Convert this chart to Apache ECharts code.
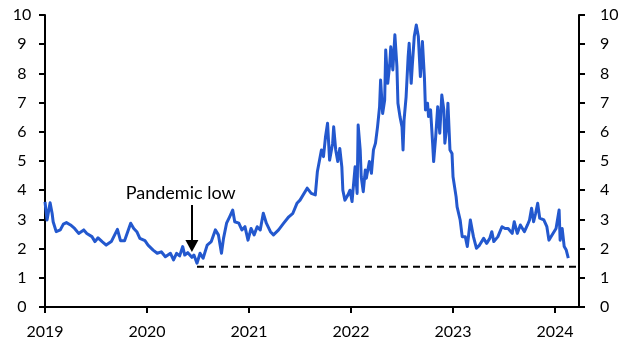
<!DOCTYPE html>
<html>
<head>
<meta charset="utf-8">
<script src="https://cdn.jsdelivr.net/npm/echarts@6/dist/echarts.min.js"></script>
<style>
  html, body { margin: 0; padding: 0; background: #fff; }
  #chart { width: 629px; height: 354px; }
</style>
</head>
<body>
<div id="chart"></div>
<script>
// dates as decimal years
const years = [
  2019.00, 2019.02, 2019.05, 2019.07, 2019.08, 2019.11, 2019.15, 2019.18, 2019.21, 2019.25,
  2019.29, 2019.33, 2019.38, 2019.41, 2019.46, 2019.49, 2019.52, 2019.56, 2019.60, 2019.65,
  2019.71, 2019.74, 2019.78, 2019.84, 2019.87, 2019.90, 2019.93, 2019.98, 2020.01, 2020.06,
  2020.10, 2020.14, 2020.18, 2020.23, 2020.26, 2020.29, 2020.32, 2020.35, 2020.37, 2020.40,
  2020.44, 2020.46, 2020.49, 2020.52, 2020.55, 2020.59, 2020.63, 2020.67, 2020.70, 2020.73,
  2020.75, 2020.78, 2020.81, 2020.84, 2020.86, 2020.90, 2020.93, 2020.96, 2020.99, 2021.02,
  2021.05, 2021.08, 2021.11, 2021.14, 2021.17, 2021.21, 2021.24, 2021.29, 2021.34, 2021.39,
  2021.43, 2021.47, 2021.50, 2021.57, 2021.61, 2021.65, 2021.67, 2021.71, 2021.73, 2021.75,
  2021.77, 2021.79, 2021.82, 2021.83, 2021.85, 2021.87, 2021.89, 2021.91, 2021.92, 2021.94,
  2021.97, 2021.99, 2022.01, 2022.04, 2022.06, 2022.07, 2022.09, 2022.10, 2022.12, 2022.14,
  2022.15, 2022.18, 2022.20, 2022.22, 2022.24, 2022.26, 2022.28, 2022.29, 2022.31, 2022.33,
  2022.34, 2022.36, 2022.38, 2022.39, 2022.41, 2022.43, 2022.45, 2022.46, 2022.48, 2022.50,
  2022.51, 2022.52, 2022.54, 2022.56, 2022.57, 2022.59, 2022.60, 2022.62, 2022.64, 2022.66,
  2022.68, 2022.70, 2022.72, 2022.73, 2022.75, 2022.76, 2022.78, 2022.80, 2022.81, 2022.83,
  2022.85, 2022.87, 2022.89, 2022.91, 2022.92, 2022.94, 2022.95, 2022.97, 2022.99, 2023.00,
  2023.03, 2023.04, 2023.07, 2023.09, 2023.12, 2023.14, 2023.17, 2023.20, 2023.23, 2023.26,
  2023.30, 2023.33, 2023.36, 2023.38, 2023.40, 2023.44, 2023.48, 2023.51, 2023.54, 2023.58,
  2023.60, 2023.63, 2023.66, 2023.70, 2023.73, 2023.75, 2023.77, 2023.79, 2023.81, 2023.83,
  2023.85, 2023.89, 2023.92, 2023.94, 2023.98, 2024.01, 2024.04, 2024.05, 2024.07, 2024.09,
  2024.11, 2024.13
]
const rate = [
  3.60, 2.98, 3.57, 3.20, 2.92, 2.58, 2.64, 2.84, 2.89, 2.81,
  2.69, 2.52, 2.64, 2.52, 2.41, 2.24, 2.37, 2.24, 2.12, 2.24,
  2.66, 2.27, 2.27, 2.87, 2.69, 2.58, 2.35, 2.27, 2.12, 1.95,
  1.84, 1.89, 1.72, 1.84, 1.61, 1.84, 1.75, 2.07, 1.78, 1.86,
  1.70, 1.78, 1.50, 1.84, 1.67, 2.12, 2.24, 2.64, 2.47, 1.84,
  2.35, 2.87, 3.09, 3.32, 2.92, 2.87, 2.64, 2.75, 2.29, 2.69,
  2.47, 2.75, 2.64, 3.21, 2.87, 2.58, 2.47, 2.64, 2.87, 3.09,
  3.21, 3.55, 3.66, 4.07, 3.89, 3.84, 4.63, 5.38, 5.15, 5.83,
  6.29, 5.03, 5.61, 6.17, 5.38, 4.98, 5.43, 4.80, 4.00, 3.66,
  3.84, 4.00, 3.61, 4.80, 3.89, 6.23, 5.38, 4.46, 3.95, 4.69,
  4.41, 4.98, 4.58, 5.38, 5.61, 6.17, 6.86, 7.77, 6.63, 7.09,
  8.80, 7.66, 8.34, 8.91, 8.12, 9.32, 8.23, 6.98, 6.52, 6.17,
  5.38, 6.40, 7.20, 8.57, 9.03, 7.66, 8.23, 9.26, 9.66, 9.26,
  7.89, 9.09, 7.83, 6.75, 6.98, 6.52, 6.75, 5.61, 4.98, 5.83,
  6.86, 5.95, 7.26, 6.75, 5.61, 6.23, 6.98, 5.38, 5.26, 4.46,
  3.78, 3.43, 2.98, 2.41, 2.41, 2.07, 2.98, 2.41, 2.01, 2.12,
  2.35, 2.18, 2.35, 2.58, 2.24, 2.41, 2.75, 2.69, 2.69, 2.52,
  2.92, 2.52, 2.81, 2.58, 2.81, 2.98, 3.38, 2.92, 3.21, 3.55,
  3.04, 2.98, 2.75, 2.29, 2.52, 2.69, 3.32, 2.29, 2.69, 2.07,
  1.95, 1.67
]
const yearTicks = [2019, 2020, 2021, 2022, 2023, 2024]
const xMin = 2019
const xMax = 2024.235
const lowLevel = 1.38
const lowFrom = 2020.49
const noteText = 'Pandemic low'
const noteAt = [2020.33, 3.91]
const arrowFrom = [2020.44, 3.49]
const arrowTo = [2020.44, 2.09]

const font = 'Lato, "Open Sans", sans-serif'
const axisBlack = { lineStyle: { color: '#000', width: 2 } }

const myChart = echarts.init(document.getElementById('chart'), null, { renderer: 'canvas' })

const options = {
  animation: false,
  grid: { left: 45, right: 50, top: 15, bottom: 47 },
  xAxis: {
    type: 'value',
    min: xMin,
    max: xMax,
    interval: 1,
    axisLine: { show: true, onZero: false, ...axisBlack },
    axisTick: { show: true, inside: false, length: 6, ...axisBlack },
    splitLine: { show: false },
    axisLabel: {
      color: '#000',
      fontFamily: font,
      fontSize: 16,
      margin: 17,
      showMaxLabel: false,
      formatter: v => (yearTicks.includes(Math.round(v)) && Math.abs(v - Math.round(v)) < 1e-6 ? String(Math.round(v)) : '')
    }
  },
  yAxis: [
    {
      type: 'value',
      position: 'left',
      min: 0,
      max: 10,
      interval: 1,
      axisLine: { show: true, ...axisBlack },
      axisTick: { show: true, length: 6, ...axisBlack },
      splitLine: { show: false },
      axisLabel: { color: '#000', fontFamily: font, fontSize: 16, margin: 23, align: 'center' }
    },
    {
      type: 'value',
      position: 'right',
      min: 0,
      max: 10,
      interval: 1,
      axisLine: { show: true, ...axisBlack },
      axisTick: { show: true, length: 6, ...axisBlack },
      splitLine: { show: false },
      axisLabel: { color: '#000', fontFamily: font, fontSize: 16, margin: 21, align: 'left' }
    }
  ],
  series: [
    {
      name: 'low',
      type: 'line',
      data: [[lowFrom, lowLevel], [xMax, lowLevel]],
      symbol: 'none',
      silent: true,
      lineStyle: { color: '#000', width: 2, type: [7, 5] },
      z: 1
    },
    {
      name: 'rate',
      type: 'line',
      data: years.map((y, i) => [y, rate[i]]),
      symbol: 'none',
      lineStyle: { color: '#2358CE', width: 3, join: 'round' },
      z: 3,
      markLine: {
        silent: true,
        symbol: ['none', 'triangle'],
        symbolSize: [13, 12],
        symbolRotate: 180,
        label: { show: false },
        lineStyle: { color: '#000', width: 2, type: 'solid' },
        data: [[{ coord: arrowFrom }, { coord: arrowTo }]]
      },
      markPoint: {
        silent: true,
        symbol: 'circle',
        symbolSize: 0,
        label: {
          show: true,
          position: 'inside',
          color: '#000',
          fontFamily: font,
          fontSize: 18,
          formatter: noteText
        },
        data: [{ coord: noteAt }]
      }
    }
  ]
}
myChart.setOption(options)
</script>
</body>
</html>
